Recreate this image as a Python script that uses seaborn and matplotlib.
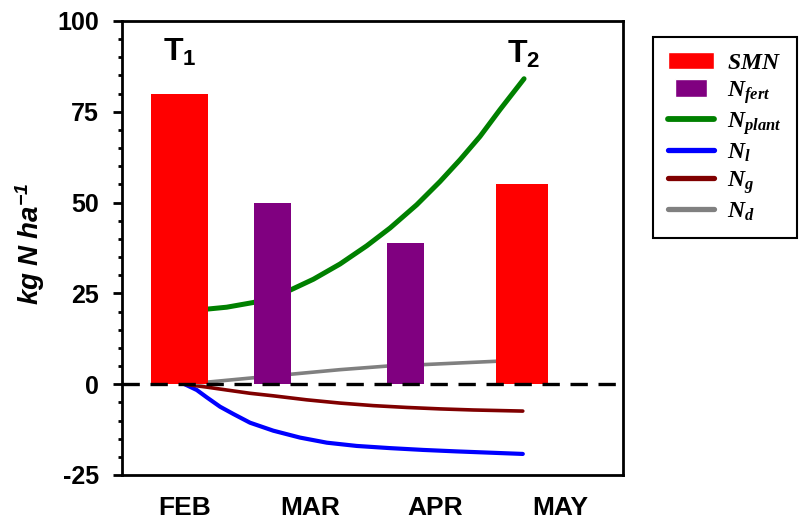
import matplotlib
matplotlib.use("Agg")
import matplotlib.pyplot as plt
import seaborn as sns
import pandas as pd
from matplotlib.patches import Patch, Rectangle
from matplotlib.lines import Line2D
from matplotlib.legend_handler import HandlerPatch
from matplotlib.ticker import MultipleLocator

# ---- data -------------------------------------------------------------
months = ["FEB", "MAR", "APR", "MAY"]

# bars: time (months after 1 February) and amount (kg N/ha)
bar_time = [-0.04, 0.70, 1.76, 2.69]
bar_value = [80, 50, 39, 55]
bar_kind = ["SMN", "fert", "fert", "SMN"]

# plant uptake
plant_t = [0.00, 0.187, 0.336, 0.549, 0.708, 0.849, 1.028, 1.241, 1.454, 1.64,
           1.853, 2.039, 2.199, 2.358, 2.518, 2.71]
plant_n = [20.2, 20.7, 21.2, 22.5, 24.0, 26.0, 28.9, 33.1, 38.1, 43.0,
           49.4, 55.8, 61.8, 68.2, 75.6, 84.1]

# leaching losses
leach_t = [0.00, 0.097, 0.176, 0.283, 0.389, 0.522, 0.708, 0.921, 1.135, 1.374,
           1.64, 1.906, 2.17, 2.70]
leach_n = [0.0, -1.6, -3.6, -6.2, -8.2, -10.6, -12.8, -14.7, -16.1, -17.0,
           -17.6, -18.1, -18.5, -19.2]

# gaseous losses
gas_t = [0.00, 0.176, 0.336, 0.522, 0.708, 0.974, 1.241, 1.507, 1.773, 2.04, 2.305, 2.70]
gas_n = [0.0, -0.8, -1.6, -2.5, -3.2, -4.3, -5.2, -5.9, -6.4, -6.8, -7.1, -7.4]

# deposition
dep_t = [0.00, 0.19, 0.85, 1.24, 1.62, 1.91, 2.48, 2.70]
dep_n = [0.0, 0.6, 2.75, 4.0, 5.0, 5.4, 6.3, 6.7]

# ---- style ------------------------------------------------------------
sns.set_style("ticks")
plt.rcParams["font.family"] = ["Liberation Sans", "DejaVu Sans"]
plt.rcParams["mathtext.fontset"] = "custom"
plt.rcParams["mathtext.it"] = "Liberation Serif:italic:bold"
plt.rcParams["mathtext.rm"] = "Liberation Serif:bold"
plt.rcParams["mathtext.bf"] = "Liberation Sans:bold"
plt.rcParams["mathtext.sf"] = "Liberation Sans:italic:bold"
plt.rcParams["axes.unicode_minus"] = False
for key in ("text.color", "axes.labelcolor", "xtick.color", "ytick.color",
            "xtick.labelcolor", "ytick.labelcolor", "axes.edgecolor"):
    plt.rcParams[key] = "black"

colors = {"SMN": "#FF0000", "fert": "#800080"}

fig = plt.figure(figsize=(8.01, 5.21), dpi=100)
ax = fig.add_axes([122 / 801, 1 - 475 / 521, 501 / 801, 454 / 521])

series = [
    (plant_t, plant_n, "#008000", 3.6),
    (leach_t, leach_n, "#0000FF", 3.0),
    (gas_t, gas_n, "#800000", 2.6),
    (dep_t, dep_n, "#808080", 2.6),
]
for t, n, c, lw in series:
    df = pd.DataFrame({"t": t, "n": n})
    sns.lineplot(data=df, x="t", y="n", color=c, lw=lw, ax=ax,
                 estimator=None, sort=False, legend=False, zorder=2)

widths = [0.455, 0.30, 0.296, 0.415]
ax.bar(bar_time, bar_value, width=widths,
       color=[colors[k] for k in bar_kind], zorder=3, linewidth=0)

ax.axhline(0, color="black", lw=2.4, dashes=(5.2, 3.2), zorder=4)

ax.set_xlim(-0.5, 3.5)
ax.set_ylim(-25, 100)
ax.set_xticks(range(len(months)))
ax.set_xticklabels(months)
ax.set_yticks([-25, 0, 25, 50, 75, 100])
ax.yaxis.set_minor_locator(MultipleLocator(5))
ax.set_xlabel("")
ax.set_ylabel("")

for s in ax.spines.values():
    s.set_visible(True)
    s.set_linewidth(2.0)
    s.set_color("black")

ax.tick_params(axis="y", which="major", direction="out", length=6.5, width=2,
               pad=10, labelsize=18, color="black")
ax.tick_params(axis="y", which="minor", direction="out", length=3, width=2,
               color="black")
ax.tick_params(axis="x", which="both", length=0, pad=15, labelsize=19)
for lab in ax.get_xticklabels() + ax.get_yticklabels():
    lab.set_fontweight("bold")

fig.text(30 / 801, 1 - 244 / 521, r"$\mathsf{kg\ N\ ha^{-1}}$", rotation=90,
         ha="center", va="center", fontsize=20)

ax.text(-0.17, 89, r"$\mathbf{T_1}$", fontsize=23, ha="left", va="baseline")
ax.text(2.57, 88.4, r"$\mathbf{T_2}$", fontsize=23, ha="left", va="baseline")


def narrow_patch(legend, orig_handle, xdescent, ydescent, width, height, fontsize):
    w = width * 0.70
    return Rectangle((-xdescent + (width - w) / 2, -ydescent), w, height)


handles = [
    Patch(facecolor=colors["SMN"], label=r"$SMN$"),
    Patch(facecolor=colors["fert"], label=r"$N_{fert}$"),
    Line2D([], [], color="#008000", lw=4.2, label=r"$N_{plant}$"),
    Line2D([], [], color="#0000FF", lw=3.8, label=r"$N_{l}$"),
    Line2D([], [], color="#800000", lw=3.8, label=r"$N_{g}$"),
    Line2D([], [], color="#808080", lw=3.8, label=r"$N_{d}$"),
]
leg = fig.legend(
    handles=handles, loc="upper left",
    bbox_to_anchor=(653 / 801, 1 - 36.7 / 521), bbox_transform=fig.transFigure,
    borderaxespad=0, fontsize=17, frameon=True, fancybox=False, framealpha=1,
    edgecolor="black", handlelength=1.95, handleheight=0.75, handletextpad=0.55,
    borderpad=0.65, labelspacing=0.2,
    handler_map={handles[1]: HandlerPatch(patch_func=narrow_patch)},
)
leg.get_frame().set_linewidth(1.5)

fig.savefig("out.png", dpi=100)
